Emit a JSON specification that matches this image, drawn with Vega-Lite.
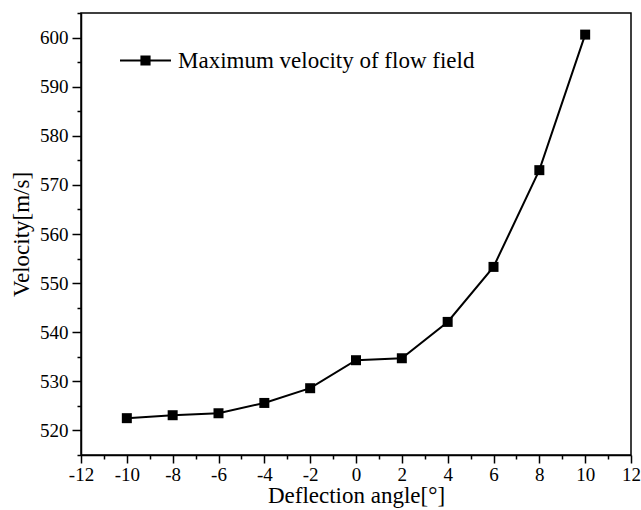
{
  "$schema": "https://vega.github.io/schema/vega-lite/v6.json",
  "width": 550,
  "height": 442,
  "autosize": {"type": "none"},
  "padding": {"left": 81, "top": 13, "right": 10, "bottom": 55},
  "background": "white",
  "config": {
    "font": "Liberation Serif",
    "view": {"stroke": "black", "strokeWidth": 1.5},
    "axis": {"grid": false, "domainColor": "black", "domainWidth": 1.5, "tickColor": "black", "tickWidth": 1.5, "labelColor": "black", "titleColor": "black", "labelFont": "Liberation Serif", "titleFont": "Liberation Serif", "labelFontSize": 19, "titleFontSize": 23, "titleFontWeight": "normal"}
  },
  "data": {"values": [
    {"angle": -10, "velocity": 522.5, "series": "Maximum velocity of flow field"},
    {"angle": -8, "velocity": 523.1, "series": "Maximum velocity of flow field"},
    {"angle": -6, "velocity": 523.5, "series": "Maximum velocity of flow field"},
    {"angle": -4, "velocity": 525.6, "series": "Maximum velocity of flow field"},
    {"angle": -2, "velocity": 528.6, "series": "Maximum velocity of flow field"},
    {"angle": 0, "velocity": 534.3, "series": "Maximum velocity of flow field"},
    {"angle": 2, "velocity": 534.7, "series": "Maximum velocity of flow field"},
    {"angle": 4, "velocity": 542.1, "series": "Maximum velocity of flow field"},
    {"angle": 6, "velocity": 553.3, "series": "Maximum velocity of flow field"},
    {"angle": 8, "velocity": 573.0, "series": "Maximum velocity of flow field"},
    {"angle": 10, "velocity": 600.6, "series": "Maximum velocity of flow field"}
  ]},
  "encoding": {
    "x": {"field": "angle", "type": "quantitative", "scale": {"domain": [-12, 12], "nice": false, "zero": false},
      "axis": {"title": "Deflection angle[°]", "values": [-12,-11,-10,-9,-8,-7,-6,-5,-4,-3,-2,-1,0,1,2,3,4,5,6,7,8,9,10,11,12],
        "labelExpr": "datum.value % 2 === 0 ? '' + datum.value : ''",
        "labelFont": "Liberation Serif", "titleFont": "Liberation Serif", "labelFontSize": 19, "titleFontSize": 23,
        "tickSize": {"condition": {"test": "datum.value % 2 === 0", "value": 8}, "value": 4},
        "labelPadding": 2, "titlePadding": 0, "labelFlush": false, "labelOverlap": false}},
    "y": {"field": "velocity", "type": "quantitative", "scale": {"domain": [515, 605], "nice": false, "zero": false},
      "axis": {"title": "Velocity[m/s]", "values": [515,520,525,530,535,540,545,550,555,560,565,570,575,580,585,590,595,600,605],
        "labelExpr": "datum.value % 10 === 0 ? '' + datum.value : ''",
        "labelFont": "Liberation Serif", "titleFont": "Liberation Serif", "labelFontSize": 19, "titleFontSize": 23,
        "tickSize": {"condition": {"test": "datum.value % 10 === 0", "value": 9}, "value": 4},
        "labelPadding": 4, "titlePadding": 6, "labelFlush": false, "labelOverlap": false}}
  },
  "layer": [
    {"mark": {"type": "line", "color": "black", "strokeWidth": 2},
     "encoding": {"detail": {"field": "series"}}},
    {"mark": {"type": "point", "shape": "square", "filled": true, "size": 100, "opacity": 1},
     "encoding": {"color": {"field": "series", "type": "nominal", "scale": {"range": ["black"]},
       "legend": {"title": null, "orient": "none", "legendX": 38, "legendY": 21,
         "symbolType": "M-1,0H1M-0.16,-0.16H0.16V0.16H-0.16Z", "symbolSize": 2600, "symbolStrokeWidth": 2,
         "symbolStrokeColor": "black", "symbolFillColor": "black",
         "labelFont": "Liberation Serif", "labelFontSize": 23, "labelColor": "black", "labelLimit": 400, "labelOffset": 6}}}}
  ]
}
